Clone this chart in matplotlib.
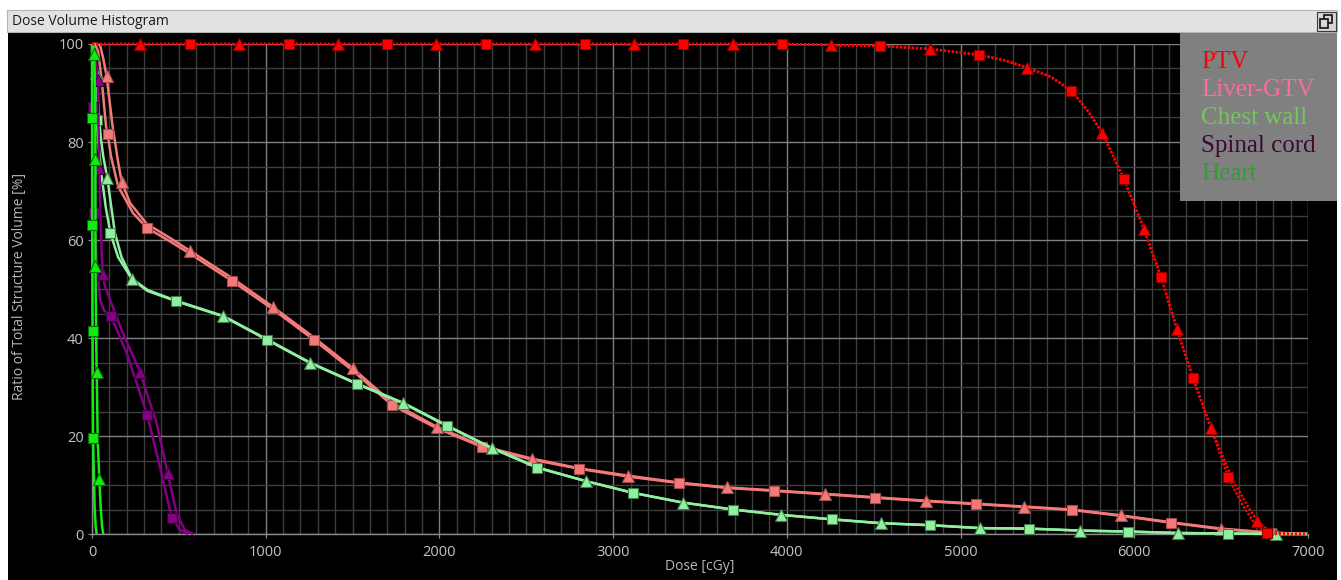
import matplotlib
matplotlib.use("Agg")
import matplotlib.pyplot as plt
from matplotlib.patches import Rectangle
from matplotlib.ticker import MultipleLocator

# ---------------- data (dose in cGy, volume in %) ----------------
ptv_sq_dose = [0, 4000, 4254, 4536, 4824, 5105, 5250, 5381, 5520, 5636, 5730, 5815, 5941, 6056,
               6154, 6246, 6338, 6442, 6540, 6628, 6705, 6764, 6800, 7000]
ptv_sq_vol = [100, 100, 99.8, 99.6, 99.0, 97.8, 96.7, 95.2, 93.3, 90.5, 86.5, 81.9, 72.4, 62.2,
              52.4, 41.8, 31.8, 21.6, 11.6, 5.6, 1.5, 0.2, 0, 0]
ptv_tr_dose = [0, 4000, 4254, 4536, 4824, 5105, 5250, 5381, 5520, 5636, 5730, 5815, 5941, 6056,
               6154, 6246, 6338, 6442, 6567, 6666, 6707, 6762, 6839, 6900, 7000]
ptv_tr_vol = [100, 100, 99.8, 99.6, 99.0, 97.8, 96.7, 95.2, 93.3, 90.5, 86.5, 81.9, 72.4, 62.2,
              52.4, 41.8, 31.8, 21.6, 11.0, 4.9, 2.7, 1.0, 0.3, 0, 0]
ptv_sq_mark_dose = [564, 1134, 1698, 2268, 2838, 3402, 3972, 4536, 5105, 5636, 5941, 6154, 6338, 6540, 6764]
ptv_sq_mark_vol = [100, 100, 100, 100, 100, 100, 100, 99.6, 97.8, 90.5, 72.4, 52.4, 31.8, 11.6, 0.2]
ptv_tr_mark_dose = [276, 846, 1416, 1980, 2550, 3120, 3690, 4254, 4824, 5381, 5815, 6056, 6246, 6442, 6707]
ptv_tr_mark_vol = [100, 100, 100, 100, 100, 100, 100, 99.8, 99.0, 95.2, 81.9, 62.2, 41.8, 21.6, 2.7]

liver_sq_dose = [0, 17, 35, 56, 81, 90, 110, 150, 236, 315, 450, 564, 808, 1044, 1278, 1502, 1727,
                 1984, 2243, 2531, 2805, 3088, 3379, 3655, 3926, 4220, 4507, 4800, 5086, 5368,
                 5640, 5925, 6210, 6500, 6780, 7000]
liver_sq_vol = [100, 100, 98.5, 92.6, 83.1, 81.6, 77, 71, 65.5, 62.5, 59.7, 57.2, 51.6, 45.8, 39.6,
                33.3, 26.3, 21.6, 17.8, 15.2, 13.3, 11.7, 10.4, 9.4, 8.8, 8.1, 7.4, 6.7, 6.1, 5.5,
                4.9, 3.7, 2.3, 1.0, 0.25, 0]
liver_tr_dose = [0, 30, 46, 65, 84, 119, 150, 171, 220, 315, 450, 564, 808, 1044, 1278, 1502, 1727,
                 1984, 2243, 2531, 2805, 3088, 3379, 3655, 3926, 4220, 4507, 4800, 5086, 5368,
                 5640, 5925, 6210, 6500, 6780, 7000]
liver_tr_vol = [100, 100, 99.8, 97, 93.4, 83.1, 76, 71.8, 67.5, 63.3, 60.4, 57.8, 52.2, 46.3, 40.1,
                33.8, 26.8, 21.9, 18.0, 15.4, 13.4, 11.9, 10.5, 9.5, 8.9, 8.2, 7.5, 6.8, 6.2, 5.6,
                5.0, 3.8, 2.4, 1.1, 0.3, 0]
liver_sq_mark_dose = [90, 315, 808, 1278, 1727, 2243, 2805, 3379, 3926, 4507, 5086, 5640, 6210, 6780]
liver_sq_mark_vol = [81.6, 62.5, 51.6, 39.6, 26.3, 17.8, 13.3, 10.4, 8.8, 7.4, 6.1, 4.9, 2.3, 0.25]
liver_tr_mark_dose = [84, 171, 564, 1044, 1502, 1984, 2531, 3088, 3655, 4220, 4800, 5368, 5925, 6500]
liver_tr_mark_vol = [93.4, 71.8, 57.8, 46.3, 33.8, 21.9, 15.4, 11.9, 9.5, 8.2, 6.8, 5.6, 3.8, 1.1]

chest_sq_dose = [0, 8, 18, 27, 40, 56, 80, 106, 150, 230, 320, 485, 756, 1009, 1255, 1526, 1790,
                 2046, 2301, 2564, 2842, 3114, 3403, 3689, 3969, 4257, 4543, 4825, 5111, 5396,
                 5685, 5964, 6252, 6539, 6818, 7000]
chest_sq_vol = [100, 96, 90, 84.5, 78.5, 72.9, 66.5, 61.4, 56.5, 52.0, 49.6, 47.5, 44.4, 39.6, 34.9,
                30.6, 26.7, 22.0, 17.5, 13.5, 10.8, 8.4, 6.4, 5.0, 3.9, 3.0, 2.2, 1.8, 1.2, 1.1,
                0.7, 0.5, 0.2, 0.1, 0, 0]
chest_tr_dose = [0, 10, 23, 35, 50, 65, 88, 110, 132, 170, 230, 320, 485, 756, 1009, 1255, 1526,
                 1790, 2046, 2301, 2564, 2842, 3114, 3403, 3689, 3969, 4257, 4543, 4825, 5111,
                 5396, 5685, 5964, 6252, 6539, 6818, 7000]
chest_tr_vol = [100, 99, 94, 88, 81, 77, 72.7, 67, 61.4, 56.5, 52.1, 49.8, 47.6, 44.5, 39.7, 35.0,
                30.7, 26.8, 22.1, 17.6, 13.6, 10.8, 8.4, 6.4, 5.0, 3.9, 3.0, 2.2, 1.8, 1.2, 1.1,
                0.7, 0.5, 0.2, 0.1, 0, 0]
chest_sq_mark_dose = [27, 106, 485, 1009, 1526, 2046, 2564, 3114, 3689, 4257, 4825, 5396, 5964, 6539]
chest_sq_mark_vol = [84.5, 61.4, 47.5, 39.6, 30.6, 22.0, 13.5, 8.4, 5.0, 3.0, 1.8, 1.1, 0.5, 0.1]
chest_tr_mark_dose = [23, 88, 230, 756, 1255, 1790, 2301, 2842, 3403, 3969, 4543, 5111, 5685, 6252, 6818]
chest_tr_mark_vol = [94.0, 72.7, 52.1, 44.5, 35.0, 26.8, 17.6, 10.8, 6.4, 3.9, 2.2, 1.2, 0.7, 0.2, 0]

cord_sq_dose = [0, 2, 3, 8, 13, 22, 36, 46, 70, 109, 200, 318, 391, 459, 507, 555]
cord_sq_vol = [100, 93, 87.1, 75, 65.5, 58, 51.8, 47.8, 45.6, 44.5, 36.9, 24.3, 13.7, 3.3, 0.8, 0]
cord_tr_dose = [0, 15, 33, 42, 50, 61, 75, 104, 171, 276, 372, 436, 487, 535, 583]
cord_tr_vol = [100, 98.5, 92.7, 74.7, 63, 53.0, 50.5, 47.8, 41.6, 33.1, 22.6, 12.4, 4.2, 0.8, 0]
cord_sq_mark_dose = [3, 13, 109, 318, 459]
cord_sq_mark_vol = [87.1, 65.5, 44.5, 24.3, 3.3]
cord_tr_mark_dose = [33, 42, 61, 276, 436]
cord_tr_mark_vol = [92.7, 74.7, 53.0, 33.1, 12.4]

heart_sq_dose = [0, 0.5, 1, 3, 6, 15, 21, 27]
heart_sq_vol = [100, 84.9, 63.1, 41.4, 19.5, 5.6, 1.5, 0]
heart_tr_dose = [0, 8, 14, 18, 20, 20, 24, 27, 33, 42, 50, 58, 65]
heart_tr_vol = [100, 99.5, 96, 88, 76.5, 54.6, 40, 33.0, 19, 11.3, 5.6, 1.5, 0]
heart_sq_mark_dose = [0.5, 1, 3, 6]
heart_sq_mark_vol = [84.9, 63.1, 41.4, 19.5]
heart_tr_mark_dose = [10, 20, 20, 27, 42]
heart_tr_mark_vol = [98.0, 76.5, 54.6, 33.0, 11.3]

legend_names = ["PTV", "Liver-GTV", "Chest wall", "Spinal cord", "Heart"]
legend_colors = ["#ff0000", "#ff6aa2", "#72c85a", "#3c0a34", "#2e9e2e"]

x_ticks = [0, 1000, 2000, 3000, 4000, 5000, 6000, 7000]
y_ticks = [0, 20, 40, 60, 80, 100]

# ---------------- figure / window frame ----------------
W, H, DPI = 1341, 580, 100
fig = plt.figure(figsize=(W / DPI, H / DPI), dpi=DPI, facecolor="white")


def fx(px):
    return px / W


def fy(py):
    return 1 - py / H


def frect(x0, y0, x1, y1, **kw):
    r = Rectangle((fx(x0), fy(y1)), fx(x1) - fx(x0), fy(y0) - fy(y1),
                  transform=fig.transFigure, **kw)
    fig.patches.append(r)
    return r


frect(8, 32, 1337, 580, facecolor="black", edgecolor="none", zorder=-10)
frect(7, 10, 1337, 32, facecolor="#e2e2e2", edgecolor="#b4b4b4", lw=0.8, zorder=-9)
fig.text(fx(12), fy(21.5), "Dose Volume Histogram", ha="left", va="center",
         fontsize=10, color="#1a1a1a", family="Open Sans")
# restore button in the title bar
frect(1317, 12, 1336, 31, facecolor="#d6d6d6", edgecolor="#3a3a3a", lw=0.8, zorder=-8)
frect(1324, 15, 1332, 23, facecolor="#d6d6d6", edgecolor="#111111", lw=1.2, zorder=-7)
frect(1320, 19, 1328, 28, facecolor="#d6d6d6", edgecolor="#111111", lw=1.2, zorder=-6)

# ---------------- axes ----------------
ax = fig.add_axes([fx(92), fy(534), fx(1308) - fx(92), fy(44) - fy(534)])
ax.set_facecolor("black")
ax.set_xlim(0, 7000)
ax.set_ylim(0, 100)
ax.set_xticks(x_ticks)
ax.set_yticks(y_ticks)
ax.xaxis.set_minor_locator(MultipleLocator(100))
ax.yaxis.set_minor_locator(MultipleLocator(5))
ax.set_axisbelow(True)
ax.grid(which="minor", color="#3e3e3e", lw=1.0)
ax.grid(which="major", color="#808080", lw=1.0)
for side in ("top", "right"):
    ax.spines[side].set_visible(False)
for side in ("left", "bottom"):
    ax.spines[side].set_color("#8a8a8a")
    ax.spines[side].set_linewidth(1.0)
ax.tick_params(which="minor", length=0)
ax.tick_params(which="major", direction="out", length=3, width=0.9, color="#8a8a8a",
               labelcolor="#c4c4c4", labelsize=10.5)
ax.tick_params(axis="x", pad=5)
ax.tick_params(axis="y", pad=3)
for lab in ax.get_xticklabels() + ax.get_yticklabels():
    lab.set_family("Open Sans")

fig.text(fx(700), fy(567), "Dose [cGy]", ha="center", va="center", fontsize=10,
         color="#b8b8b8", family="Open Sans")
fig.text(fx(20), fy(286), "Ratio of Total Structure Volume [%]", ha="center", va="center",
         rotation=90, fontsize=10, color="#b8b8b8", family="Open Sans")


# ---------------- curves ----------------
def curve(dose, vol, color, ls="-", lw=1.8, z=2):
    kw = dict(color=color, lw=lw, clip_on=False, zorder=z, solid_capstyle="butt")
    if ls == "dot":
        kw.update(linestyle=(0, (0.9, 0.7)), dash_capstyle="butt")
    ax.plot(dose, vol, **kw)


def marks(dose, vol, marker, face, edge, z=3):
    size = 7.5 if marker == "s" else 9
    ax.plot(dose, vol, linestyle="none", marker=marker, ms=size, mfc=face, mec=edge,
            mew=0.8, clip_on=False, zorder=z)


liver_c, liver_e = "#f47a7a", "#a84a4a"
chest_c, chest_e = "#90f0a0", "#3e7e48"
cord_c, cord_e = "#840084", "#3a003a"
heart_c, heart_e = "#12ec12", "#067006"
ptv_c, ptv_e = "#ff0000", "#8c0000"

curve(liver_sq_dose, liver_sq_vol, liver_c, z=2)
curve(liver_tr_dose, liver_tr_vol, liver_c, z=2)
marks(liver_sq_mark_dose, liver_sq_mark_vol, "s", liver_c, liver_e, z=3)
marks(liver_tr_mark_dose, liver_tr_mark_vol, "^", liver_c, liver_e, z=3)

curve(chest_sq_dose, chest_sq_vol, chest_c, z=4)
curve(chest_tr_dose, chest_tr_vol, chest_c, z=4)
marks(chest_sq_mark_dose, chest_sq_mark_vol, "s", chest_c, chest_e, z=5)
marks(chest_tr_mark_dose, chest_tr_mark_vol, "^", chest_c, chest_e, z=5)

curve(cord_sq_dose, cord_sq_vol, cord_c, z=6)
curve(cord_tr_dose, cord_tr_vol, cord_c, z=6)
marks(cord_sq_mark_dose, cord_sq_mark_vol, "s", cord_c, cord_e, z=7)
marks(cord_tr_mark_dose, cord_tr_mark_vol, "^", cord_c, cord_e, z=7)

curve(heart_sq_dose, heart_sq_vol, heart_c, z=8)
curve(heart_tr_dose, heart_tr_vol, heart_c, z=8)
marks(heart_sq_mark_dose, heart_sq_mark_vol, "s", heart_c, heart_e, z=9)
marks(heart_tr_mark_dose, heart_tr_mark_vol, "^", heart_c, heart_e, z=9)

curve(ptv_sq_dose, ptv_sq_vol, ptv_c, ls="dot", lw=1.8, z=10)
curve(ptv_tr_dose, ptv_tr_vol, ptv_c, ls="dot", lw=1.8, z=10)
marks(ptv_sq_mark_dose, ptv_sq_mark_vol, "s", ptv_c, ptv_e, z=11)
marks(ptv_tr_mark_dose, ptv_tr_mark_vol, "^", ptv_c, ptv_e, z=11)

# ---------------- legend panel ----------------
frect(1180, 33, 1337, 201, facecolor="#808080", edgecolor="none", zorder=20)
for i, (name, col) in enumerate(zip(legend_names, legend_colors)):
    fig.text(fx(1201), fy(68 + 27.9 * i), name, ha="left", va="baseline", fontsize=18,
             color=col, family="Liberation Serif", zorder=21)

fig.savefig("out.png", dpi=DPI, facecolor="white")
